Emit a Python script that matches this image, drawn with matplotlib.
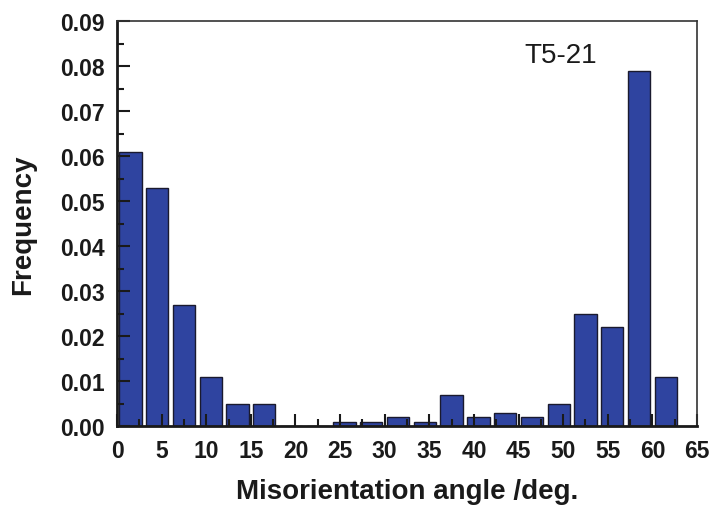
import matplotlib

matplotlib.use("Agg")
import matplotlib.pyplot as plt
from matplotlib.ticker import MultipleLocator

plt.rcParams["font.family"] = ["Liberation Sans", "DejaVu Sans"]

# bin centres (deg) and frequencies
angles = [1.5, 4.5, 7.5, 10.5, 13.5, 16.5, 19.5, 22.5, 25.5, 28.5, 31.5,
          34.5, 37.5, 40.5, 43.5, 46.5, 49.5, 52.5, 55.5, 58.5, 61.5]
freq = [0.061, 0.053, 0.027, 0.011, 0.005, 0.005, 0.0, 0.0, 0.001, 0.001, 0.002,
        0.001, 0.007, 0.002, 0.003, 0.002, 0.005, 0.025, 0.022, 0.079, 0.011]
sample = "T5-21"

fig = plt.figure(figsize=(7.13, 5.10), dpi=100)
ax = fig.add_axes([0.1641, 0.1627, 0.8135, 0.794])

ax.bar(angles, freq, width=2.5, color="#2f44a0", edgecolor="#1a1a2e", linewidth=1.0)

ax.set_xlim(0, 65)
ax.set_ylim(0, 0.09)
ax.xaxis.set_major_locator(MultipleLocator(5))
ax.xaxis.set_minor_locator(MultipleLocator(2.5))
ax.yaxis.set_major_locator(MultipleLocator(0.01))
ax.yaxis.set_minor_locator(MultipleLocator(0.005))
ax.yaxis.set_major_formatter(plt.FormatStrFormatter("%.2f"))

ax.tick_params(which="both", direction="in", top=False, right=False, width=1.5,
               color="#1a1a1a")
ax.tick_params(which="major", length=9, pad=9, labelsize=16.5)
ax.tick_params(which="minor", length=5)
for lab in ax.get_xticklabels() + ax.get_yticklabels():
    lab.set_fontweight("bold")
    lab.set_color("#1a1a1a")

for s in ax.spines.values():
    s.set_linewidth(1.2)
    s.set_color("#333333")
ax.spines["left"].set_linewidth(2.0)
ax.spines["bottom"].set_linewidth(2.0)
ax.spines["left"].set_color("#1a1a1a")
ax.spines["bottom"].set_color("#1a1a1a")

ax.set_xlabel("Misorientation angle /deg.", fontsize=20, fontweight="bold",
              color="#1a1a1a", labelpad=12)
ax.set_ylabel("Frequency", fontsize=20, fontweight="bold", color="#1a1a1a",
              labelpad=17)

ax.text(45.7, 0.081, sample, fontsize=20, color="#1a1a1a", ha="left", va="baseline")

fig.savefig("out.png", dpi=100)
